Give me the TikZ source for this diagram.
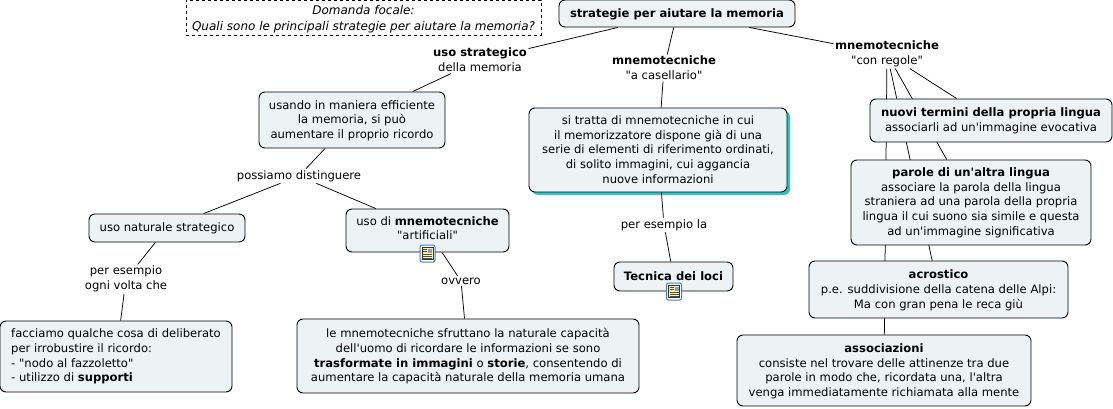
\documentclass[tikz,border=0pt]{standalone}
\usepackage{fontspec}
\setmainfont{DejaVu Sans}[Ligatures=TeXOff]
\usetikzlibrary{backgrounds}
\definecolor{boxfill}{HTML}{EDF3F5}
\definecolor{teal}{HTML}{2CC4C4}
\definecolor{iconblue}{HTML}{3F7FC8}
\definecolor{iconpage}{HTML}{FBF3A8}
\tikzset{
  concept/.style={draw=black,fill=boxfill,rounded corners=6pt,line width=0.9pt,align=center,inner sep=0pt,font=\fontsize{11.6pt}{14.7pt}\selectfont},
  linklabel/.style={fill=white,align=center,inner sep=1.5pt,font=\fontsize{11.6pt}{14.7pt}\selectfont},
  conn/.style={draw=black,line width=0.75pt},
}
\newcommand{\boxnode}[7][]{% opts,name,x0,y0,x1,y1,text
  \pgfmathsetmacro{\bw}{#5-#3}\pgfmathsetmacro{\bh}{#6-#4}
  \pgfmathsetmacro{\bx}{(#3+#5)/2}\pgfmathsetmacro{\by}{(#4+#6)/2}
  \node[concept,minimum width=\bw pt,minimum height=\bh pt,#1] (#2) at (\bx,\by) {#7};}
% text block set lower (or higher) than the centre of its box
\newcommand{\lowtext}[2][2pt]{\vbox{\kern#1\hbox{\tabcolsep=0pt\begin{tabular}{c}#2\end{tabular}}}}
\newcommand{\hightext}[1]{\vbox{\hbox{\tabcolsep=0pt\begin{tabular}{c}#1\end{tabular}}\kern2pt}}
\newcommand{\docicon}[2]{%
  \begin{scope}[shift={(#1,#2)}]
    \draw[draw=iconblue,fill=white,line width=1pt,rounded corners=2pt] (-7.5,-8.5) rectangle (7.5,8.5);
    \draw[draw=black!80,fill=iconpage,line width=0.5pt] (-5.5,-6) rectangle (5.5,6);
    \fill[gray!60!blue!60] (0.5,-5) rectangle (4.5,-1);
    \foreach \yy/\xe in {-4/-0.5,-2/-0.5,0.5/4.5,2.5/4.5,4.5/4.5}{\draw[black!70,line width=0.5pt] (-4.5,\yy) -- (\xe,\yy);}
  \end{scope}}
\begin{document}
\begin{tikzpicture}[x=1pt,y=-1pt]
\useasboundingbox (0,0) rectangle (1113,409);
% concepts
\boxnode{top}{559}{0}{795}{27}{\lowtext{\textbf{strategie per aiutare la memoria}}}
\boxnode[rounded corners=0pt,dashed,draw=black,fill=white,line width=0.6pt,font=\fontsize{12pt}{16pt}\selectfont]{focal}{186}{0}{541}{35}{\lowtext[3pt]{\textit{Domanda focale:}\\\textit{Quali sono le principali strategie per aiutare la memoria?}}}
\boxnode{efficient}{259}{92}{445}{148}{\lowtext{usando in maniera efficiente\\la memoria, si può\\aumentare il proprio ricordo}}
\boxnode{naturale}{89}{214}{245}{242}{uso naturale strategico}
\boxnode{artificiali}{346}{209}{509}{252}{\hightext{uso di \textbf{mnemotecniche}\\"artificiali"}}
\boxnode[align=left]{deliberato}{0}{321}{232}{392}{facciamo qualche cosa di deliberato\\per irrobustire il ricordo:\\- "nodo al fazzoletto"\\- utilizzo di \textbf{supporti}}
\boxnode{sfruttano}{297}{319}{639}{393}{\lowtext{le mnemotecniche sfruttano la naturale capacità\\dell'uomo di ricordare le informazioni se sono\\\textbf{trasformate in immagini} o \textbf{storie}, consentendo di\\aumentare la capacità naturale della memoria umana}}
\boxnode{memorizzatore}{529}{108}{787}{192}{\lowtext{si tratta di mnemotecniche in cui\\il memorizzatore dispone già di una\\serie di elementi di riferimento ordinati,\\di solito immagini, cui aggancia\\nuove informazioni}}
\boxnode{loci}{614}{262}{733}{291}{\textbf{Tecnica dei loci}}
\boxnode{nuovi}{870}{99}{1112}{142}{\textbf{nuovi termini della propria lingua}\\associarli ad un'immagine evocativa}
\boxnode{parole}{851}{160}{1091}{245}{\textbf{parole di un'altra lingua}\\associare la parola della lingua\\straniera ad una parola della propria\\lingua il cui suono sia simile e questa\\ad un'immagine significativa}
\boxnode{acrostico}{809}{261}{1068}{318}{\lowtext{\textbf{acrostico}\\p.e. suddivisione della catena delle Alpi:\\Ma con gran pena le reca giù}}
\boxnode{associazioni}{737}{335}{1031}{406}{\lowtext{\textbf{associazioni}\\consiste nel trovare delle attinenze tra due\\parole in modo che, ricordata una, l'altra\\venga immediatamente richiamata alla mente}}
% link labels
\node[linklabel] (lstrat) at (480,60) {\textbf{uso strategico}\\della memoria};
\node[linklabel] (lcas) at (664,68) {\textbf{mnemotecniche}\\"a casellario"};
\node[linklabel] (lreg) at (887,54) {\textbf{mnemotecniche}\\"con regole"};
\node[linklabel] (lposs) at (299,176) {possiamo distinguere};
\node[linklabel] (lvolta) at (126,279) {per esempio\\ogni volta che};
\node[linklabel] (lovv) at (461,281) {ovvero};
\node[linklabel] (lesla) at (664,225) {per esempio la};
% icons
\docicon{427.5}{253.5}
\docicon{674}{291.5}
\begin{scope}[on background layer]
  \fill[teal,rounded corners=6pt] (532,111) rectangle (790,195);
  \draw[conn] (top) -- (lstrat);
  \draw[conn] (lstrat) -- (efficient);
  \draw[conn] (top) -- (lcas);
  \draw[conn] (lcas) -- (memorizzatore);
  \draw[conn] (top) -- (lreg);
  \draw[conn] (lreg) -- (nuovi);
  \draw[conn] (lreg) -- (parole);
  \draw[conn] (lreg) -- (acrostico);
  \draw[conn] (lreg) -- (associazioni);
  \draw[conn] (efficient) -- (lposs);
  \draw[conn] (lposs) -- (naturale);
  \draw[conn] (lposs) -- (artificiali);
  \draw[conn] (naturale) -- (lvolta);
  \draw[conn] (lvolta) -- (deliberato);
  \draw[conn] (artificiali) -- (lovv);
  \draw[conn] (lovv) -- (sfruttano);
  \draw[conn] (memorizzatore) -- (lesla);
  \draw[conn] (lesla) -- (loci);
\end{scope}
\end{tikzpicture}
\end{document}
